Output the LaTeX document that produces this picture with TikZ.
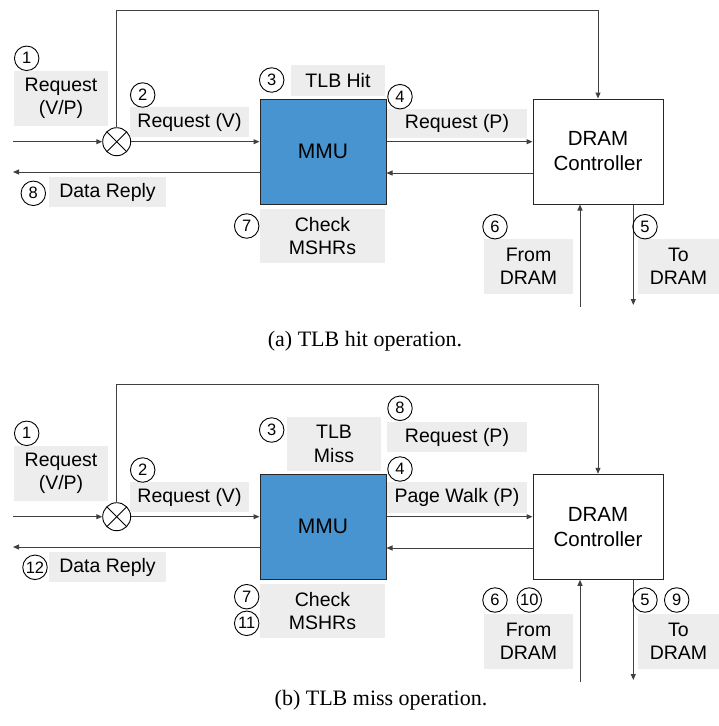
\documentclass[tikz,border=0pt]{standalone}
\usepackage{fontspec}
\setmainfont{Liberation Sans}
\newfontfamily\capfont{Liberation Serif}
\usetikzlibrary{arrows.meta,calc}
\definecolor{lblgray}{HTML}{EDEDED}
\definecolor{mmublue}{HTML}{4894D0}
\definecolor{linegray}{HTML}{404040}
\begin{document}
\begin{tikzpicture}[x=1pt,y=-1pt,
  lblbox/.style={fill=lblgray,inner sep=0pt,align=center,font=\fontsize{19.5}{23.3}\selectfont},
  num/.style={draw,circle,minimum size=24.5pt,inner sep=0pt,line width=0.9pt,font=\fontsize{16.5}{17}\selectfont},
  mmubox/.style={draw=black!85,fill=mmublue,line width=1pt,minimum width=126pt,minimum height=105pt,inner sep=0pt,font=\fontsize{21}{25}\selectfont},
  dramblk/.style={draw=black!85,fill=white,line width=1pt,minimum width=130pt,minimum height=105pt,inner sep=0pt,align=center,font=\fontsize{20.5}{25}\selectfont},
  xorc/.style={draw,circle,minimum size=28pt,inner sep=0pt,line width=0.9pt},
  conn/.style={draw=linegray,line width=1pt,-{Triangle[length=6pt,width=5pt]}},
  captxt/.style={font=\capfont\fontsize{22}{26}\selectfont,inner sep=0pt}]
\useasboundingbox (0,0) rectangle (719,726);

% ================= (a) =================
\begin{scope}
\node[xorc] (xa) at (116.7,141.7) {};
\draw[line width=0.9pt] ($(xa.center)+(-9.9,-9.9)$) -- ($(xa.center)+(9.9,9.9)$);
\draw[line width=0.9pt] ($(xa.center)+(-9.9,9.9)$) -- ($(xa.center)+(9.9,-9.9)$);
\node[mmubox] (mmua) at (323,151.5) {MMU};
\node[dramblk] (drama) at (598,151.5) {DRAM\\Controller};
\coordinate (ina) at (13,141.7);
\coordinate (outa) at (13,172);
\coordinate (topa) at (116.7,10);
\coordinate (fda) at (580,306.7);
\coordinate (tda) at (633.3,305);

\draw[conn] (ina) -- (xa.west);
\draw[conn] (xa.east) -- (xa.east -| mmua.west);
\draw[conn] (mmua.west |- outa) -- (outa);
\draw[conn] (xa.east -| mmua.east) -- (xa.east -| drama.west);
\draw[conn] (drama.west |- 0,173) -- (mmua.east |- 0,173);
\draw[conn] (xa.north) -- (topa) -| (drama.north);
\draw[conn] (fda) -- (fda |- drama.south);
\draw[conn] (tda |- drama.south) -- (tda);

\node[lblbox,minimum width=94pt,minimum height=55pt] (la1) at (61,98.5) {Request\\(V/P)};
\node[lblbox,minimum width=119pt,minimum height=30pt] (la2) at (189.5,122) {Request (V)};
\node[lblbox,minimum width=94pt,minimum height=31pt] (la3) at (338,80.5) {TLB Hit};
\node[lblbox,minimum width=140pt,minimum height=29pt] (la4) at (457,123.5) {Request (P)};
\node[lblbox,minimum width=117pt,minimum height=30pt] (la8) at (107.5,192) {Data Reply};
\node[lblbox,minimum width=125pt,minimum height=54pt] (la7) at (322.5,236) {Check\\MSHRs};
\node[lblbox,minimum width=89pt,minimum height=55pt] (la6) at (528.5,266.5) {From\\DRAM};
\node[lblbox,minimum width=81pt,minimum height=55pt] (la5) at (678.5,266.5) {To\\DRAM};

\node[num] (na1) at (26.7,58.3) {1};
\node[num] (na2) at (142.7,95) {2};
\node[num] (na3) at (271.7,80) {3};
\node[num] (na4) at (400,96.7) {4};
\node[num] (na5) at (645,226.7) {5};
\node[num] (na6) at (495,226.7) {6};
\node[num] (na7) at (246.7,226) {7};
\node[num] (na8) at (33.3,193.3) {8};

\node[captxt] (capa) at (365,341.7) {(a) TLB hit operation.};
\end{scope}

% ================= (b) =================
\begin{scope}
\node[xorc] (xb) at (116.7,516.7) {};
\draw[line width=0.9pt] ($(xb.center)+(-9.9,-9.9)$) -- ($(xb.center)+(9.9,9.9)$);
\draw[line width=0.9pt] ($(xb.center)+(-9.9,9.9)$) -- ($(xb.center)+(9.9,-9.9)$);
\node[mmubox] (mmub) at (323,526.8) {MMU};
\node[dramblk] (dramb) at (598,526.8) {DRAM\\Controller};
\coordinate (inb) at (13,516.7);
\coordinate (outb) at (13,547);
\coordinate (topb) at (116.7,384.5);
\coordinate (fdb) at (580,681.7);
\coordinate (tdb) at (633.3,680);

\draw[conn] (inb) -- (xb.west);
\draw[conn] (xb.east) -- (xb.east -| mmub.west);
\draw[conn] (mmub.west |- outb) -- (outb);
\draw[conn] (xb.east -| mmub.east) -- (xb.east -| dramb.west);
\draw[conn] (dramb.west |- 0,548) -- (mmub.east |- 0,548);
\draw[conn] (xb.north) -- (topb) -| (dramb.north);
\draw[conn] (fdb) -- (fdb |- dramb.south);
\draw[conn] (tdb |- dramb.south) -- (tdb);

\node[lblbox,minimum width=94pt,minimum height=55pt] (lb1) at (61,473.5) {Request\\(V/P)};
\node[lblbox,minimum width=119pt,minimum height=30pt] (lb2) at (189.5,497) {Request (V)};
\node[lblbox,minimum width=94pt,minimum height=54pt] (lb3) at (334,444) {TLB\\Miss};
\node[lblbox,minimum width=140pt,minimum height=30pt] (lb8) at (457,437) {Request (P)};
\node[lblbox,minimum width=140pt,minimum height=31pt] (lb4) at (457,497.5) {Page Walk (P)};
\node[lblbox,minimum width=117pt,minimum height=30pt] (lb12) at (107.5,567) {Data Reply};
\node[lblbox,minimum width=125pt,minimum height=54pt] (lb7) at (322.5,611) {Check\\MSHRs};
\node[lblbox,minimum width=89pt,minimum height=55pt] (lb6) at (528.5,641) {From\\DRAM};
\node[lblbox,minimum width=81pt,minimum height=55pt] (lb5) at (678.5,641) {To\\DRAM};

\node[num] (nb1) at (26.7,433.3) {1};
\node[num] (nb2) at (142.7,470) {2};
\node[num] (nb3) at (271.7,430) {3};
\node[num] (nb8) at (400,408.3) {8};
\node[num] (nb4) at (400,469) {4};
\node[num] (nb12) at (35,567.3) {12};
\node[num] (nb7) at (246.7,596.7) {7};
\node[num] (nb11) at (246.7,623.3) {11};
\node[num] (nb6) at (495,600) {6};
\node[num] (nb10) at (529.3,600) {10};
\node[num] (nb5) at (645,600) {5};
\node[num] (nb9) at (676.7,600) {9};

\node[captxt] (capb) at (381,700) {(b) TLB miss operation.};
\end{scope}
\end{tikzpicture}
\end{document}
